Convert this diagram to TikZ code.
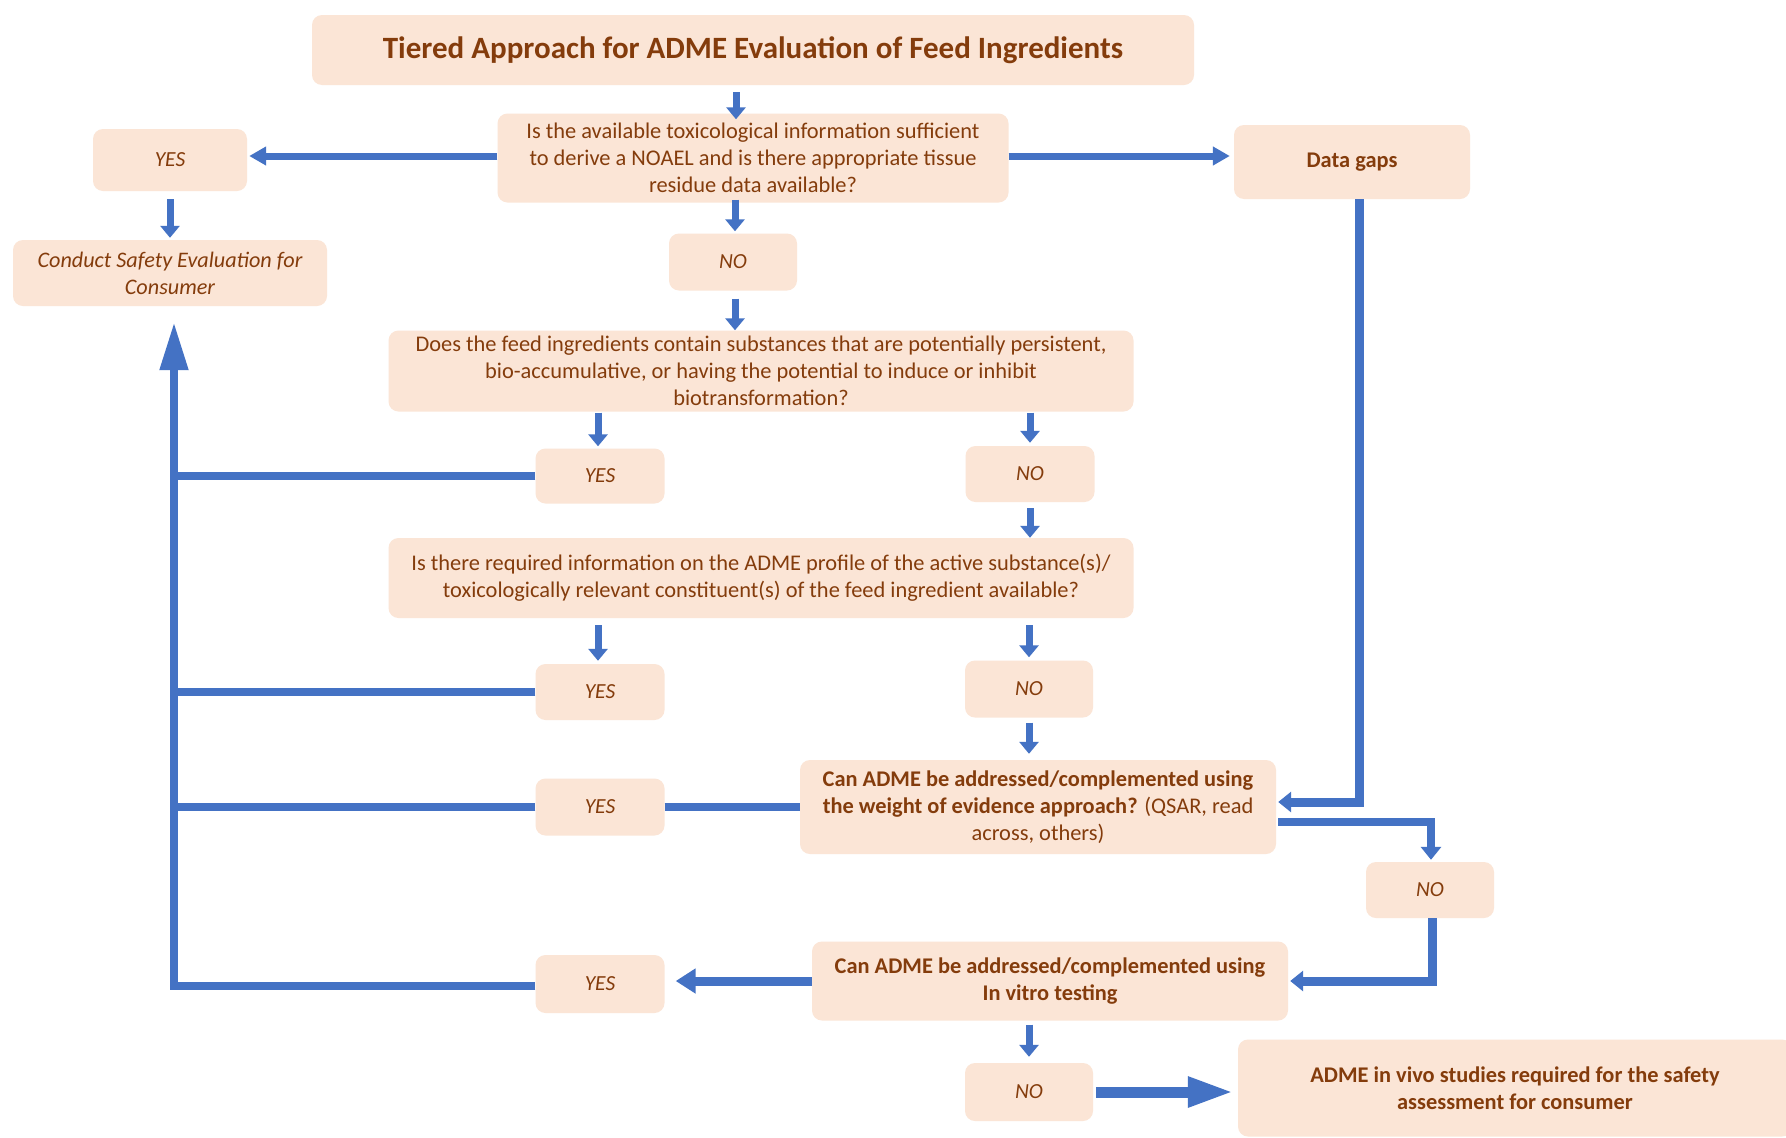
\documentclass[tikz,border=0pt]{standalone}
\usepackage{fontspec}
\setmainfont{Carlito}
\usetikzlibrary{arrows.meta}
\definecolor{boxfill}{HTML}{FBE5D6}
\definecolor{txt}{HTML}{843C0C}
\definecolor{arrblue}{HTML}{4472C4}
\begin{document}
\begin{tikzpicture}[x=1pt,y=-1pt,
  box/.style={rectangle, rounded corners=10pt, fill=boxfill, text=txt, align=center, inner sep=0pt, font=\fontsize{22.4}{26.8}\selectfont},
  yn/.style={box, font=\fontsize{21.5}{24}\selectfont\itshape, minimum width=129pt, minimum height=57pt},
  darr/.style={draw=arrblue, line width=7pt, -{Triangle[width=19pt,length=12pt]}},
  harr/.style={draw=arrblue, line width=7pt, -{Triangle[width=18pt,length=17pt]}},
  elbow/.style={draw=arrblue, line width=9pt, -{Triangle[width=20pt,length=13pt]}},
  fb/.style={draw=arrblue, line width=8pt},
]
\useasboundingbox (0,0) rectangle (1786,1138);
\fill[white] (0,0) rectangle (1786,1138);

% nodes
\node[box, minimum width=882pt, minimum height=70pt, font=\fontsize{31}{34}\selectfont\bfseries] (title) at (753,50) {Tiered Approach for ADME Evaluation of Feed Ingredients};
\node[box, minimum width=511pt, minimum height=89pt] (q1) at (753,158) {Is the available toxicological information sufficient\\to derive a NOAEL and is there appropriate tissue\\residue data available?};
\node[yn, minimum width=154pt, minimum height=62pt] (yes1) at (170,160) {YES};
\node[box, minimum width=236pt, minimum height=74pt, font=\fontsize{22.4}{26.8}\selectfont\bfseries] (dgaps) at (1352,162) {Data gaps};
\node[box, minimum width=314pt, minimum height=66pt, font=\fontsize{22.2}{26.8}\selectfont\itshape] (conduct) at (170,273) {Conduct Safety Evaluation for\\Consumer};
\node[yn, minimum width=128pt] (no1) at (733,262) {NO};
\node[box, minimum width=745pt, minimum height=81pt] (q2) at (761,371) {Does the feed ingredients contain substances that are potentially persistent,\\bio-accumulative, or having the potential to induce or inhibit\\biotransformation?};
\node[yn, minimum height=55pt] (yes2) at (600,476) {YES};
\node[yn, minimum height=56pt] (no2) at (1030,474) {NO};
\node[box, minimum width=745pt, minimum height=80pt] (q3) at (761,578) {Is there required information on the ADME profile of the active substance(s)/\\toxicologically relevant constituent(s) of the feed ingredient available?};
\node[yn, minimum height=56pt] (yes3) at (600,692) {YES};
\node[yn, minimum width=128pt] (no3) at (1029,689) {NO};
\node[box, minimum width=476pt, minimum height=94pt] (q4) at (1038,807) {\textbf{Can ADME be addressed/complemented using}\\\textbf{the weight of evidence approach?} (QSAR, read\\across, others)};
\node[yn] (yes4) at (600,807) {YES};
\node[yn, minimum width=128pt, minimum height=56pt] (no4) at (1430,890) {NO};
\node[box, minimum width=476pt, minimum height=79pt, font=\fontsize{22.4}{26.8}\selectfont\bfseries] (q5) at (1050,981) {Can ADME be addressed/complemented using\\In vitro testing};
\node[yn, minimum height=58pt] (yes5) at (600,984) {YES};
\node[yn, minimum width=128pt, minimum height=58pt] (no5) at (1029,1092) {NO};
\node[box, minimum width=554pt, minimum height=97pt, font=\fontsize{22.4}{26.8}\selectfont\bfseries] (adme) at (1515,1088) {ADME in vivo studies required for the safety\\assessment for consumer};

\coordinate (fbx) at (174,0);
\coordinate (fbl) at (170,0);

% vertical small arrows
\draw[darr, shorten <=7pt, shorten >=-6pt] (title.south -| 736,0) -- (q1.north -| 736,0);
\draw[darr, shorten <=-3pt, shorten >=2pt] (q1.south -| 735,0) -- (no1.north -| 735,0);
\draw[darr, shorten <=8pt, shorten >=0pt] (no1.south -| 735,0) -- (q2.north -| 735,0);
\draw[darr, shorten <=8pt, shorten >=2pt] (yes1.south) -- (conduct.north);
\draw[darr, shorten <=1pt, shorten >=2pt] (q2.south -| 598,0) -- (yes2.north -| 598,0);
\draw[darr, shorten <=1pt, shorten >=3pt] (q2.south -| 1030,0) -- (no2.north -| 1030,0);
\draw[darr, shorten <=6pt, shorten >=0pt] (no2.south) -- (q3.north -| 1030,0);
\draw[darr, shorten <=7pt, shorten >=3pt] (q3.south -| 598,0) -- (yes3.north -| 598,0);
\draw[darr, shorten <=7pt, shorten >=3pt] (q3.south -| 1029,0) -- (no3.north);
\draw[darr, shorten <=5pt, shorten >=6pt] (no3.south) -- (q4.north -| 1029,0);
\draw[darr, shorten <=4pt, shorten >=6pt] (q5.south -| 1029,0) -- (no5.north);

% horizontal arrows from Q1
\draw[harr, shorten >=2pt] (q1.west |- 0,156) -- (yes1.east |- 0,156);
\draw[harr, shorten >=4pt] (q1.east |- 0,156) -- (dgaps.west |- 0,156);

% Data gaps to Q4
\draw[elbow, shorten >=2pt] ([xshift=7pt]dgaps.south) |- (q4.east |- 0,802);
% Q4 to NO4
\draw[elbow, line width=8pt, shorten <=2pt, shorten >=2pt] (q4.east |- 0,822) -| ([xshift=1pt]no4.north);
% NO4 to Q5
\draw[elbow, shorten >=2pt] ([xshift=2pt]no4.south) |- (q5.east);
% Q5 to YES5
\draw[draw=arrblue, line width=9pt, -{Triangle[width=24pt,length=20pt]}, shorten >=11pt] (q5.west) -- (yes5.east |- q5.west);
% NO5 to ADME
\draw[draw=arrblue, line width=11pt, -{Triangle[width=28pt,length=46pt]}, shorten <=3pt, shorten >=4pt] (no5.east) -- (adme.west |- no5.east);
% YES4 -- Q4
\draw[fb] (yes4.east) -- (q4.west);

% feedback to Conduct
\draw[fb] (yes2.west) -- (yes2.west -| fbl);
\draw[fb] (yes3.west) -- (yes3.west -| fbl);
\draw[fb] (yes4.west) -- (yes4.west -| fbl);
\draw[draw=arrblue, line width=8pt, -{Triangle[width=27pt,length=48pt]}, shorten >=16pt] (yes5.west |- 0,986) -| (conduct.south -| fbx);
\end{tikzpicture}
\end{document}
